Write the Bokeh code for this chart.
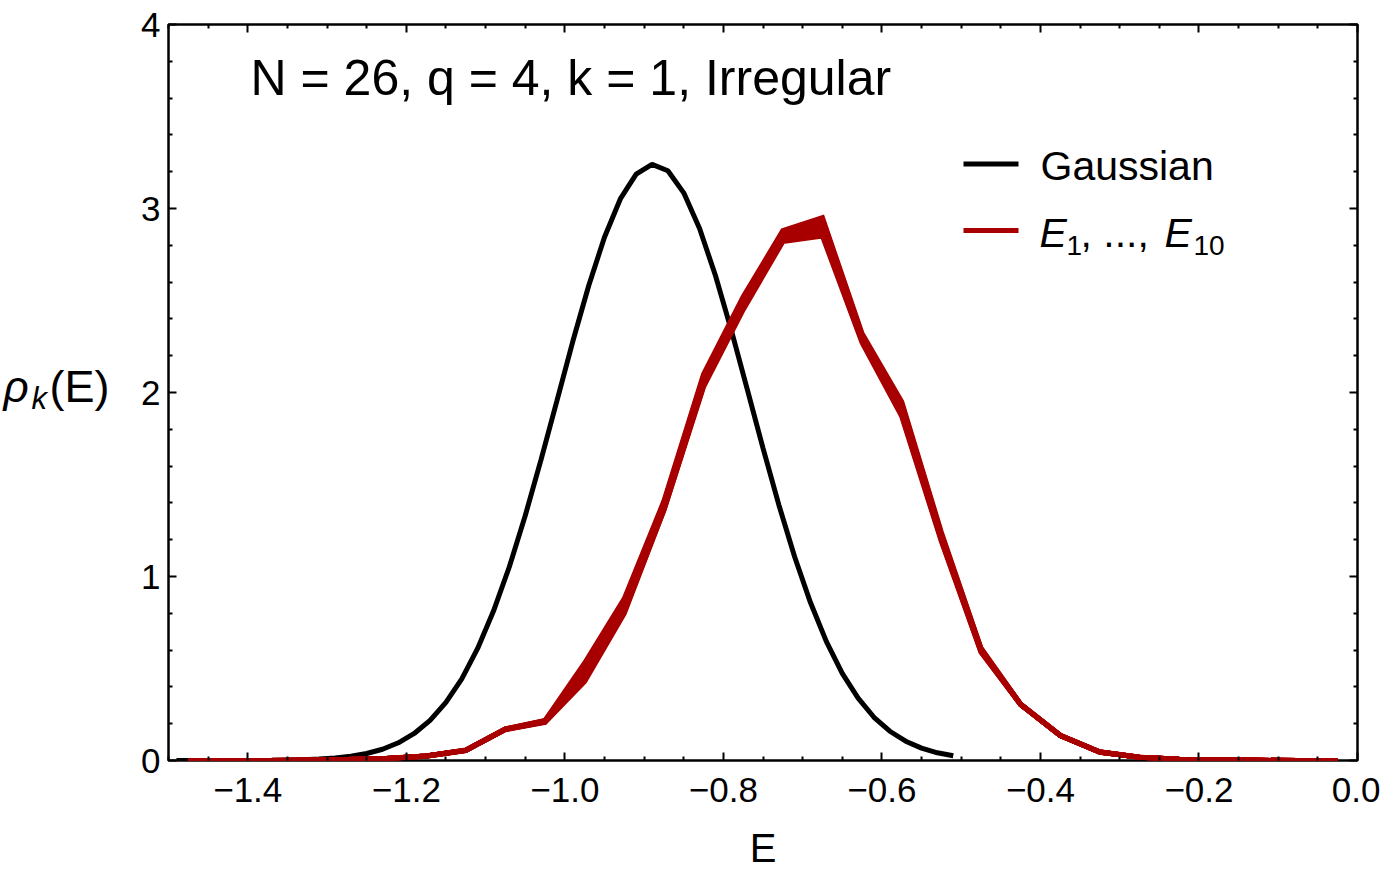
from bokeh.plotting import figure
from bokeh.layouts import row
from bokeh.models import Range1d, FixedTicker, LinearAxis, Label
from bokeh.embed import file_html
from bokeh.resources import INLINE

FONT = "Liberation Sans"

# ---------------- data ----------------
gauss_x = [-1.49, -1.47, -1.45, -1.43, -1.41, -1.39, -1.37, -1.35, -1.33, -1.31,
           -1.29, -1.27, -1.25, -1.23, -1.21, -1.19, -1.17, -1.15, -1.13, -1.11,
           -1.09, -1.07, -1.05, -1.03, -1.01, -0.99, -0.97, -0.95, -0.93, -0.91,
           -0.89, -0.87, -0.85, -0.83, -0.81, -0.79, -0.77, -0.75, -0.73, -0.71,
           -0.69, -0.67, -0.65, -0.63, -0.61, -0.59, -0.57, -0.55, -0.53, -0.51]
gauss_y = [0.0000, 0.0000, 0.0001, 0.0002, 0.0003, 0.0006, 0.0012, 0.0023, 0.0043, 0.0077,
           0.0135, 0.0230, 0.0380, 0.0613, 0.0962, 0.147, 0.218, 0.316, 0.444, 0.609,
           0.812, 1.053, 1.330, 1.635, 1.955, 2.277, 2.579, 2.844, 3.052, 3.187,
           3.240, 3.205, 3.085, 2.891, 2.636, 2.339, 2.020, 1.698, 1.389, 1.106,
           0.857, 0.646, 0.474, 0.339, 0.235, 0.159, 0.105, 0.0672, 0.0419, 0.0254]

red_x = [-1.475, -1.425, -1.375, -1.325, -1.275, -1.225, -1.175, -1.125, -1.075, -1.025,
         -0.975, -0.925, -0.875, -0.825, -0.775, -0.725, -0.675, -0.625, -0.575, -0.525,
         -0.475, -0.425, -0.375, -0.325, -0.275, -0.225, -0.175, -0.125, -0.075, -0.025]

e1 = [0.0, 0.0, 0.0, 0.002, 0.005, 0.011, 0.024, 0.055, 0.170, 0.212,
      0.45, 0.82, 1.37, 2.05, 2.47, 2.83, 2.87, 2.29, 1.90, 1.21,
      0.60, 0.305, 0.136, 0.046, 0.018, 0.007, 0.003, 0.001, 0.0, 0.0]
e2 = [0.0, 0.0, 0.0, 0.002, 0.005, 0.011, 0.025, 0.056, 0.171, 0.215,
      0.50, 0.86, 1.40, 2.08, 2.50, 2.86, 2.93, 2.31, 1.93, 1.22,
      0.60, 0.306, 0.137, 0.046, 0.018, 0.007, 0.003, 0.001, 0.0, 0.0]
e3 = [0.0, 0.0, 0.0, 0.002, 0.005, 0.011, 0.024, 0.055, 0.169, 0.210,
      0.47, 0.84, 1.38, 2.06, 2.48, 2.85, 2.90, 2.30, 1.91, 1.22,
      0.60, 0.305, 0.136, 0.045, 0.018, 0.007, 0.003, 0.001, 0.0, 0.0]
e4 = [0.0, 0.0, 0.0, 0.002, 0.005, 0.012, 0.025, 0.057, 0.172, 0.218,
      0.53, 0.88, 1.41, 2.10, 2.52, 2.88, 2.95, 2.32, 1.95, 1.24,
      0.61, 0.307, 0.137, 0.047, 0.018, 0.007, 0.003, 0.001, 0.0, 0.0]
e5 = [0.0, 0.0, 0.0, 0.002, 0.005, 0.010, 0.023, 0.054, 0.168, 0.207,
      0.43, 0.80, 1.36, 2.03, 2.45, 2.82, 2.85, 2.27, 1.87, 1.19,
      0.59, 0.303, 0.135, 0.045, 0.017, 0.007, 0.003, 0.001, 0.0, 0.0]
e6 = [0.0, 0.0, 0.0, 0.002, 0.005, 0.011, 0.024, 0.055, 0.170, 0.213,
      0.48, 0.85, 1.39, 2.07, 2.49, 2.86, 2.91, 2.30, 1.92, 1.21,
      0.60, 0.305, 0.136, 0.046, 0.018, 0.007, 0.003, 0.001, 0.0, 0.0]
e7 = [0.0, 0.0, 0.0, 0.002, 0.005, 0.011, 0.024, 0.055, 0.170, 0.211,
      0.46, 0.83, 1.37, 2.05, 2.47, 2.84, 2.88, 2.29, 1.89, 1.20,
      0.60, 0.304, 0.136, 0.046, 0.018, 0.007, 0.003, 0.001, 0.0, 0.0]
e8 = [0.0, 0.0, 0.0, 0.002, 0.005, 0.011, 0.025, 0.056, 0.171, 0.216,
      0.51, 0.87, 1.40, 2.09, 2.51, 2.87, 2.94, 2.31, 1.94, 1.23,
      0.61, 0.306, 0.137, 0.046, 0.018, 0.007, 0.003, 0.001, 0.0, 0.0]
e9 = [0.0, 0.0, 0.0, 0.002, 0.005, 0.010, 0.023, 0.054, 0.169, 0.209,
      0.44, 0.81, 1.36, 2.04, 2.46, 2.83, 2.86, 2.28, 1.88, 1.20,
      0.59, 0.304, 0.135, 0.045, 0.017, 0.007, 0.003, 0.001, 0.0, 0.0]
e10 = [0.0, 0.0, 0.0, 0.002, 0.005, 0.011, 0.024, 0.055, 0.170, 0.214,
       0.49, 0.85, 1.39, 2.07, 2.49, 2.85, 2.92, 2.30, 1.92, 1.22,
       0.60, 0.305, 0.136, 0.046, 0.018, 0.007, 0.003, 0.001, 0.0, 0.0]
red_series = [e1, e2, e3, e4, e5, e6, e7, e8, e9, e10]

x_ticks = [-1.4, -1.2, -1.0, -0.8, -0.6, -0.4, -0.2, 0.0]
x_tick_labels = ["\u22121.4", "\u22121.2", "\u22121.0", "\u22120.8", "\u22120.6",
                 "\u22120.4", "\u22120.2", "0.0"]
x_minor = [-1.5, -1.45, -1.35, -1.3, -1.25, -1.15, -1.1, -1.05, -0.95, -0.9, -0.85,
           -0.75, -0.7, -0.65, -0.55, -0.5, -0.45, -0.35, -0.3, -0.25, -0.15, -0.1, -0.05]
y_ticks = [0, 1, 2, 3, 4]
y_tick_labels = ["0", "1", "2", "3", "4"]
y_minor = [0.2, 0.4, 0.6, 0.8, 1.2, 1.4, 1.6, 1.8, 2.2, 2.4, 2.6, 2.8,
           3.2, 3.4, 3.6, 3.8]

title_text = "N = 26, q = 4, k = 1, Irregular"
legend_gauss = "Gaussian"

BLACK = "#000000"
RED = "#a80000"

# ---------------- layout ----------------
W, H = 1380, 872
LW = 120                              # width of the strip holding the y label
FL, FT, FR, FB = 168, 24, 1357, 760   # frame edges in picture pixels
BASE = 0.39                           # baseline correction (fraction of font size)
LOFF = 37                             # extra vertical correction in the label strip

p = figure(width=W - LW, height=H, x_range=Range1d(-1.5, 0.0), y_range=Range1d(0, 4),
           output_backend="svg", toolbar_location=None,
           x_axis_type=None, y_axis_type=None,
           min_border_left=FL - LW, min_border_top=FT,
           min_border_right=W - FR, min_border_bottom=H - FB)
p.grid.visible = False
p.outline_line_color = "black"
p.outline_line_width = 2.5
p.background_fill_color = "white"
p.border_fill_color = "white"


def sx(px):
    return -1.5 + (px - FL) * 1.5 / (FR - FL)


def sy(py):
    return (FB - py) * 4.0 / (FB - FT)


def make_axis(ticks, minor, labels, show):
    ax = LinearAxis(ticker=FixedTicker(ticks=ticks, minor_ticks=minor))
    ax.axis_line_color = None
    ax.major_tick_in = 8
    ax.major_tick_out = 0
    ax.minor_tick_in = 4
    ax.minor_tick_out = 0
    ax.major_tick_line_color = "black"
    ax.minor_tick_line_color = "black"
    ax.major_tick_line_width = 2
    ax.minor_tick_line_width = 2
    if show:
        ax.major_label_overrides = dict(zip(ticks, labels))
        ax.major_label_text_font = FONT
        ax.major_label_text_font_size = "35px"
        ax.major_label_text_color = "black"
    else:
        ax.major_label_overrides = {t: "" for t in ticks}
        ax.major_label_text_font_size = "1px"
        ax.major_label_standoff = 0
    return ax


xb = make_axis(x_ticks, x_minor, x_tick_labels, True)
xb.major_label_standoff = 17
xb.axis_label = "E"
xb.axis_label_text_font = FONT
xb.axis_label_text_font_size = "40px"
xb.axis_label_text_font_style = "normal"
xb.axis_label_text_color = "black"
xb.axis_label_standoff = 21
p.add_layout(xb, "below")

yl = make_axis(y_ticks, y_minor, y_tick_labels, True)
yl.major_label_standoff = 8
p.add_layout(yl, "left")

p.add_layout(make_axis(x_ticks, x_minor, x_tick_labels, False), "above")
p.add_layout(make_axis(y_ticks, y_minor, y_tick_labels, False), "right")

# ---------------- data lines ----------------
p.line(gauss_x, gauss_y, line_color=BLACK, line_width=5)
for s in red_series:
    p.line(red_x, s, line_color=RED, line_width=5, line_join="miter")


# ---------------- texts ----------------
def lab(fig, text, x, y, size, style="normal"):
    fig.add_layout(Label(x=x, y=y, text=text, text_font=FONT,
                         text_font_size="%dpx" % size, text_font_style=style,
                         text_color="black", text_baseline="alphabetic",
                         text_align="left"))


def plab(text, px, py, size, style="normal"):
    lab(p, text, sx(px), sy(py - BASE * size), size, style)


plab(title_text, 250, 97, 50)

# legend
p.segment(x0=[sx(963)], y0=[sy(163.5)], x1=[sx(1018)], y1=[sy(163.5)],
          line_color=BLACK, line_width=5)
p.segment(x0=[sx(963)], y0=[sy(230)], x1=[sx(1018)], y1=[sy(230)],
          line_color=RED, line_width=5)
plab(legend_gauss, 1040, 181.5, 41)
plab("E", 1039, 248, 41, "italic")
plab("1", 1066, 256, 28)
plab(", ...,", 1080, 248, 41)
plab("E", 1164, 248, 41, "italic")
plab("10", 1193, 256, 28)

# y axis label  rho_k(E) in a narrow strip to the left
pl = figure(width=LW, height=H, x_range=Range1d(0, LW), y_range=Range1d(0, H),
            output_backend="svg", toolbar_location=None,
            x_axis_type=None, y_axis_type=None,
            min_border_left=0, min_border_right=0, min_border_top=0, min_border_bottom=0)
pl.grid.visible = False
pl.outline_line_color = None
pl.background_fill_color = "white"
pl.border_fill_color = "white"


def llab(text, px, py, size, style="normal"):
    lab(pl, text, px, H - (py + LOFF - BASE * size), size, style)


llab("\u03c1", 3, 409, 44, "italic")
llab("k", 31, 418, 31, "italic")
llab("(E)", 49, 409, 45)

layout = row(pl, p, spacing=0)
open("out.html", "w").write(file_html(layout, INLINE))
